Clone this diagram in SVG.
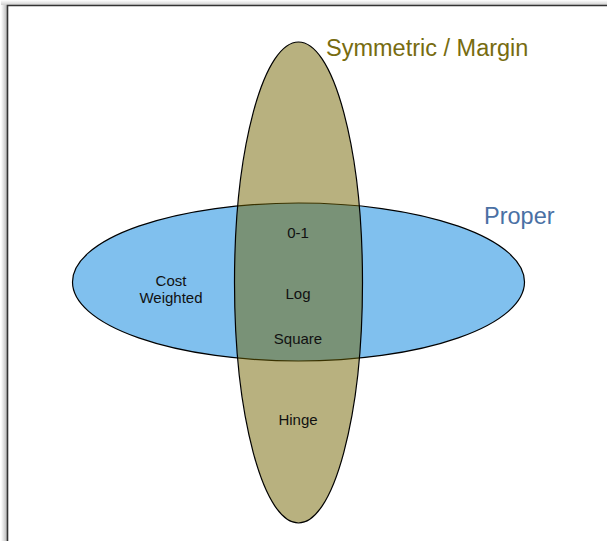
<svg xmlns="http://www.w3.org/2000/svg" width="607" height="541" viewBox="0 0 607 541">
  <defs>
    <linearGradient id="shadowLeft" x1="0" y1="0" x2="1" y2="0">
      <stop offset="0" stop-color="#ffffff"/>
      <stop offset="1" stop-color="#b8b8b8"/>
    </linearGradient>
    <linearGradient id="shadowTop" x1="0" y1="0" x2="0" y2="1">
      <stop offset="0" stop-color="#ffffff"/>
      <stop offset="1" stop-color="#d0d0d0"/>
    </linearGradient>
    <style>
      .set { stroke: #000; stroke-width: 1.2; }
      .proper { fill: #80c0ee; }
      .symmetric { fill: #716300; fill-opacity: 0.5; }
      .title { font-family: "Liberation Sans", Arial, sans-serif; font-size: 23.5px; }
      .label { font-family: "Liberation Sans", Arial, sans-serif; font-size: 15px; fill: #111; text-anchor: middle; }
    </style>
  </defs>

  <rect width="607" height="541" fill="#ffffff"/>

  <!-- page frame with soft drop shadow -->
  <g id="frame">
    <rect x="1" y="5" width="6" height="536" fill="url(#shadowLeft)"/>
    <rect x="1" y="0" width="606" height="5" fill="url(#shadowTop)"/>
    <path d="M7.5 541 V5.5 H607" fill="none" stroke="#333" stroke-width="1.6"/>
  </g>

  <!-- set: proper losses -->
  <g id="proper">
    <ellipse class="set proper" cx="298.5" cy="282" rx="226" ry="79"/>
    <text class="title" x="484" y="224" fill="#4a70a4">Proper</text>
  </g>

  <!-- set: symmetric / margin losses, translucent so the overlap shows -->
  <g id="symmetric">
    <ellipse class="set symmetric" cx="298.5" cy="282.5" rx="64" ry="240.5"/>
    <text class="title" x="326" y="56" fill="#776c10">Symmetric / Margin</text>
  </g>

  <!-- member labels -->
  <g id="cost-weighted">
    <text class="label" x="171" y="286">Cost</text>
    <text class="label" x="171" y="303">Weighted</text>
  </g>
  <g id="zero-one"><text class="label" x="298" y="238">0-1</text></g>
  <g id="log"><text class="label" x="298" y="299">Log</text></g>
  <g id="square"><text class="label" x="298" y="344">Square</text></g>
  <g id="hinge"><text class="label" x="298" y="425">Hinge</text></g>

  <g id="connectors"/>
</svg>
